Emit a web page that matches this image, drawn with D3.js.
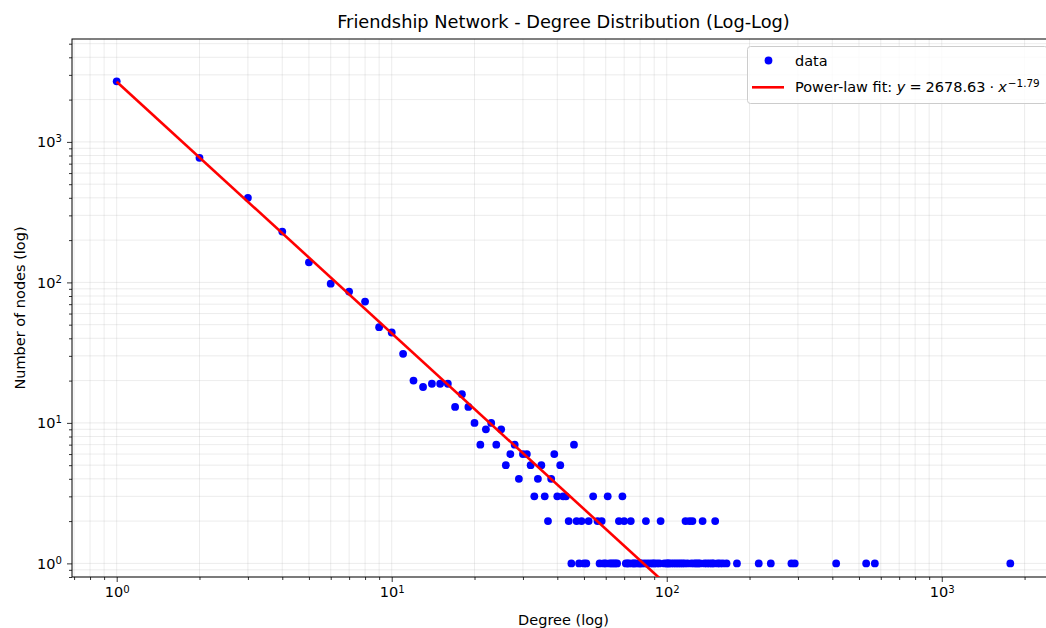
<!DOCTYPE html>
<html>
<head>
<meta charset="utf-8">
<script src="https://cdn.jsdelivr.net/npm/d3@7"></script>
<style>
  body { margin: 0; background: #fff; }
  svg { display: block; font-family: "DejaVu Sans", sans-serif; }
</style>
</head>
<body>
<script>
// degree -> number of nodes
const degrees = [1,2,3,4,5,6,7,8,9,10,11,12,13,14,15,16,17,18,19,20,21,22,23,24,25,26,27,28,29,30,
  31,32,33,34,35,36,37,38,39,40,41,42,43,44,45,46,47,48,49,50,51,52,54,56,57,58,59,60,61,62,63,64,65,66,67,
  69,70,71,72,73,74,75,76,77,79,80,81,83,84,85,87,89,90,92,94,95,98,100,101,102,104,106,108,110,112,114,116,
  117,119,121,123,124,126,128,130,132,135,137,140,143,146,148,150,153,156,160,165,180,216,239,284,292,413,531,571,1775];
const counts = [2700,770,400,230,139,98,86,73,48,44,31,20,18,19,19,19,13,16,13,10,7,9,10,7,9,5,6,7,4,6,
  6,5,3,4,5,3,2,4,6,3,5,3,3,2,1,7,2,1,2,1,1,2,3,2,1,2,1,1,3,1,1,1,1,1,2,
  3,2,1,1,1,2,1,1,1,1,1,1,1,2,1,1,1,1,1,1,2,1,1,1,1,1,1,1,1,1,1,1,
  2,1,2,1,2,1,1,1,1,2,1,1,1,1,1,2,1,1,1,1,1,1,1,1,1,1,1,1,1];

// power-law fit y = a * x^k
const fitA = 2678.63;
const fitK = -1.79;

const xMajor = [1, 10, 100, 1000];
const yMajor = [1, 10, 100, 1000];

const W = 1046, H = 628;
const box = { left: 72, top: 39, right: 1055, bottom: 577 };

const svg = d3.select("body").append("svg")
    .attr("width", W)
    .attr("height", H);

const x = d3.scaleLog()
    .domain([Math.pow(10, -0.1625), Math.pow(10, 3.4117)])
    .range([box.left, box.right]);
const y = d3.scaleLog()
    .domain([0.8, 5400])
    .range([box.bottom, box.top]);

function minorTicks(scale) {
    const [a, b] = scale.domain();
    const out = [];
    for (let e = -1; e <= 4; e++) {
        for (let k = 2; k <= 9; k++) {
            const v = k * Math.pow(10, e);
            if (v >= a * 0.999 && v <= b) out.push(v);
        }
    }
    return out;
}
const xMinor = minorTicks(x);
const yMinor = minorTicks(y);

svg.append("clipPath").attr("id", "plotclip")
  .append("rect")
    .attr("x", box.left).attr("y", box.top)
    .attr("width", box.right - box.left).attr("height", box.bottom - box.top);

// grid, major and minor alike
const grid = svg.append("g")
    .attr("stroke", "#b0b0b0")
    .attr("stroke-opacity", 0.3)
    .attr("stroke-width", 0.8);
grid.selectAll(".gx").data(xMajor.concat(xMinor)).join("line")
    .attr("x1", d => x(d)).attr("x2", d => x(d))
    .attr("y1", box.top).attr("y2", box.bottom);
grid.selectAll(".gy").data(yMajor.concat(yMinor)).join("line")
    .attr("y1", d => y(d)).attr("y2", d => y(d))
    .attr("x1", box.left).attr("x2", box.right);

// superscript tick labels like 10^2
function powLabel(sel) {
    sel.each(function (d) {
        const t = d3.select(this).text(null);
        t.append("tspan").text("10");
        t.append("tspan")
            .attr("dy", "-0.45em")
            .attr("font-size", "0.7em")
            .text(Math.round(Math.log10(d)));
    });
}

function styleAxis(g) {
    g.attr("font-family", null).attr("font-size", 14.5);
    g.select(".domain").remove();
    g.selectAll("line").attr("stroke", "#000").attr("stroke-width", 0.8);
    g.selectAll("text").attr("fill", "#000");
}

const xAxis = svg.append("g")
    .attr("transform", `translate(0,${box.bottom})`)
    .call(d3.axisBottom(x).tickValues(xMajor).tickSize(5).tickPadding(5).tickSizeOuter(0))
    .call(styleAxis);
xAxis.selectAll("text").call(powLabel);
svg.append("g")
    .attr("transform", `translate(0,${box.bottom})`)
    .call(d3.axisBottom(x).tickValues(xMinor).tickSize(3).tickFormat("").tickSizeOuter(0))
    .call(styleAxis);

const yAxis = svg.append("g")
    .attr("transform", `translate(${box.left},0)`)
    .call(d3.axisLeft(y).tickValues(yMajor).tickSize(5).tickPadding(5).tickSizeOuter(0))
    .call(styleAxis);
yAxis.selectAll("text").call(powLabel);
svg.append("g")
    .attr("transform", `translate(${box.left},0)`)
    .call(d3.axisLeft(y).tickValues(yMinor).tickSize(3).tickFormat("").tickSizeOuter(0))
    .call(styleAxis);

// frame
svg.append("rect")
    .attr("x", box.left).attr("y", box.top)
    .attr("width", box.right - box.left).attr("height", box.bottom - box.top)
    .attr("fill", "none").attr("stroke", "#000").attr("stroke-width", 1);

const plot = svg.append("g").attr("clip-path", "url(#plotclip)");

plot.selectAll("circle").data(degrees.map((d, i) => [d, counts[i]])).join("circle")
    .attr("cx", d => x(d[0]))
    .attr("cy", d => y(d[1]))
    .attr("r", 3.9)
    .attr("fill", "#0000ff");

const fitX = [d3.min(degrees), d3.max(degrees)];
plot.append("path")
    .datum(fitX.map(v => [v, fitA * Math.pow(v, fitK)]))
    .attr("fill", "none")
    .attr("stroke", "#ff0000")
    .attr("stroke-width", 2.6)
    .attr("d", d3.line().x(d => x(d[0])).y(d => y(d[1])));

// texts
svg.append("text")
    .attr("x", (box.left + box.right) / 2).attr("y", 28)
    .attr("text-anchor", "middle").attr("font-size", 17.8)
    .text("Friendship Network - Degree Distribution (Log-Log)");
svg.append("text")
    .attr("x", (box.left + box.right) / 2).attr("y", 625)
    .attr("text-anchor", "middle").attr("font-size", 14.5)
    .text("Degree (log)");
svg.append("text")
    .attr("transform", `translate(25,${(box.top + box.bottom) / 2}) rotate(-90)`)
    .attr("text-anchor", "middle").attr("font-size", 14.5)
    .text("Number of nodes (log)");

// legend
const lg = svg.append("g").attr("font-size", 14.5);
lg.append("rect")
    .attr("x", 747.5).attr("y", 46.5).attr("width", 300).attr("height", 57)
    .attr("rx", 3)
    .attr("fill", "#fff").attr("fill-opacity", 0.8)
    .attr("stroke", "#cccccc");
lg.append("circle").attr("cx", 768.5).attr("cy", 60.5).attr("r", 3.9).attr("fill", "#0000ff");
lg.append("line")
    .attr("x1", 752).attr("x2", 784).attr("y1", 87.3).attr("y2", 87.3)
    .attr("stroke", "#ff0000").attr("stroke-width", 2.6);
lg.append("text").attr("x", 795).attr("y", 65.5).text("data");
const fitLabel = lg.append("text").attr("x", 795).attr("y", 92);
fitLabel.append("tspan").text("Power-law fit: ");
fitLabel.append("tspan").attr("font-style", "italic").text("y");
fitLabel.append("tspan").attr("dx", 4).text("=");
fitLabel.append("tspan").attr("dx", 4).text(fitA);
fitLabel.append("tspan").attr("dx", 4).text("·");
fitLabel.append("tspan").attr("dx", 4).attr("font-style", "italic").text("x");
fitLabel.append("tspan").attr("dx", 1).attr("dy", "-0.5em").attr("font-size", "0.72em").text("\u2212" + Math.abs(fitK));
</script>
</body>
</html>
